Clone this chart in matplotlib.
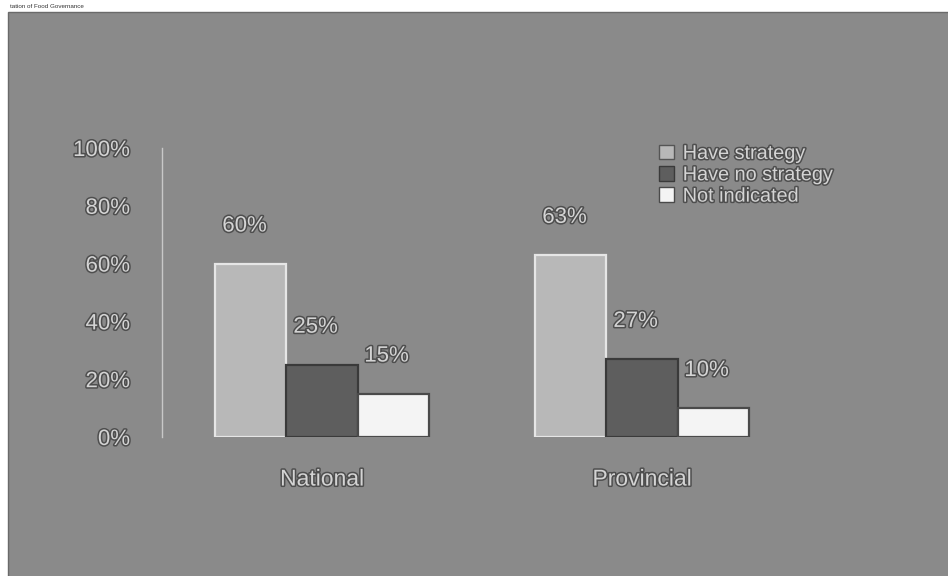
import matplotlib.pyplot as plt
import matplotlib.patheffects as pe
from matplotlib.patches import Rectangle, Patch

# data
groups = ["National", "Provincial"]
series = ["Have strategy", "Have no strategy", "Not indicated"]
have_strategy = [0.60, 0.63]
no_strategy = [0.25, 0.27]
not_indicated = [0.15, 0.10]
value_labels = [["60%", "63%"], ["25%", "27%"], ["15%", "10%"]]
yticks = [0, 0.2, 0.4, 0.6, 0.8, 1.0]
ytick_labels = ["0%", "20%", "40%", "60%", "80%", "100%"]

bg = "#8a8a8a"
bar_colors = ["#b8b8b8", "#5e5e5e", "#f4f4f4"]
edge_colors = ["#e6e6e6", "#3a3a3a", "#4a4a4a"]
txt_fill = "#d4d4d4"
outline = [pe.withStroke(linewidth=2.2, foreground="#4e4e4e")]

plt.rcParams['font.family'] = ['Liberation Sans', 'DejaVu Sans']

fig = plt.figure(figsize=(9.48, 5.76), dpi=100)
fig.patch.set_facecolor("white")

# grey scanned page area, drawn in a background axes
bg_ax = fig.add_axes([0, 0, 1, 1], zorder=-5)
bg_ax.set_xlim(0, 948)
bg_ax.set_ylim(576, 0)
bg_ax.axis("off")
bg_ax.add_patch(Rectangle((8, 12), 945, 570, facecolor=bg,
                          edgecolor="#6a6a6a", linewidth=1.0))
bg_ax.text(10, 6, "tation of Food Governance", fontsize=4.5,
           color="#333333", ha="left", va="center")

ax = fig.add_axes([162 / 948, 1 - 437 / 576, 736 / 948, 289 / 576])
ax.set_facecolor("none")

w = 0.222
x = [0, 1]
all_vals = [have_strategy, no_strategy, not_indicated]
for i, vals in enumerate(all_vals):
    pos = [xi + (i - 1) * w for xi in x]
    ax.bar(pos, vals, width=w, color=bar_colors[i], edgecolor=edge_colors[i],
           linewidth=1.6, zorder=3)
    for p, v, lab in zip(pos, vals, value_labels[i]):
        ax.text(p - 0.02, v + 0.13, lab, ha="center", va="center", fontsize=16,
                color=txt_fill, path_effects=outline, zorder=4)

ax.set_xlim(-0.5, 1.8)
ax.set_ylim(0, 1.0)
for s in ["top", "right", "bottom"]:
    ax.spines[s].set_visible(False)
ax.spines["left"].set_color("#c8c8c8")
ax.spines["left"].set_linewidth(1.0)

ax.set_yticks(yticks)
ax.set_yticklabels(ytick_labels, fontsize=16, color=txt_fill)
ax.tick_params(axis="y", length=0, pad=23)
for t in ax.get_yticklabels():
    t.set_path_effects(outline)

ax.set_xticks(x)
ax.set_xticklabels(groups, fontsize=16.5, color=txt_fill)
ax.tick_params(axis="x", length=0, pad=22)
for t in ax.get_xticklabels():
    t.set_path_effects(outline)

handles = [Patch(facecolor=bar_colors[i], edgecolor=edge_colors[i] if i else "#555555")
           for i in range(3)]
leg = fig.legend(handles, series, loc="upper left",
                 bbox_to_anchor=(641 / 948, 1 - 126 / 576), frameon=False,
                 fontsize=14.3, handlelength=0.75, handleheight=0.75,
                 handletextpad=0.45, labelspacing=0.12)
for t in leg.get_texts():
    t.set_color(txt_fill)
    t.set_path_effects(outline)

fig.savefig("out.png", dpi=100)
